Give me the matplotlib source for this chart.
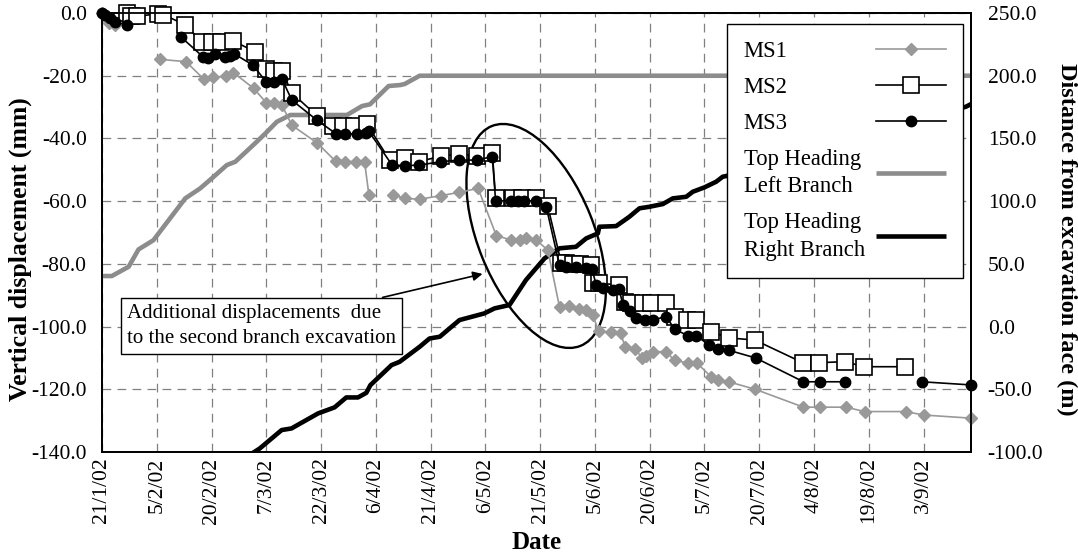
import numpy as np
import pandas as pd
import matplotlib
matplotlib.use("Agg")
from matplotlib import pyplot as plt
import matplotlib.dates as mdates
from matplotlib.patches import Ellipse
from matplotlib.transforms import ScaledTranslation

plt.rcParams['font.family'] = ['Liberation Serif', 'DejaVu Serif']

start = pd.Timestamp('2002-01-21')
nan = np.nan

# days after 21/1/02 and vertical displacement (mm); nan = break in the line
ms1_days = [0, 1, 2, 3.5, nan, 16, 23, 28, 30.5, 34, 36, 41.5, 45, 47, 49.3, 52, 59, 64, 66.5, 69.7, 71.9, 73.1, nan,
            79.7, 82.9, 87, 92.9, 97.9, 103, 108, 112.1, 114.4, 116.2, 118.9, 122.1,
            125.3, 128, 130.5, 132.6, 134.4, 136, 139.5, 142, 143.3, 146, 148, 149, 151, 154.5, 156.8, 160.5, 163,
            166.8, 168.6, 171.6, 178.9, 192.1, 196.7, 203.7, 208.9, 220.1, 225, 237.9]
ms1_disp = [0, -1.5, -3.3, -3.8, nan, -14.8, -15.5, -21.2, -20.5, -20.1, -19, -24, -28.6, -28.8, -29.4, -35.8, -41.5,
            -47.3, -47.4, -47.4, -47.4, -58, nan,
            -58, -59.1, -59.4, -58.2, -57.2, -55.9, -71, -72.4, -72.4, -71.8, -72.4, -75.6,
            -93.8, -93.3, -94.3, -94.8, -96.3, -101.5, -101.8, -102, -106.6, -107.2, -110, -109.4, -108, -108,
            -110.8, -111.6, -111.7, -116, -117, -117.6, -120, -125.7, -125.7, -125.7, -127.1, -127.1, -128.2, -129.2]

ms2_days = [6.8, 8, 9.5, 15.4, 16.8, 22.7, 27.5, 30, 32.7, 35.9, 41.9, 44.8, 47, 49.3, 52, 58.9, 63.4, 66.1, 68.9,
            72.5, 78.8, 82.9, 86.8, 92.9, 97.9, 102.6, 106.9, 107.8, 112.5, 115, 118.9, 122.1,
            125.8, 127.1, 128.9, 130.8, 134, 134.4, 136.2, 141.5, 143.1, 145, 148.1, 150.4, 154.5, 156.8, 160.2,
            162.7, 166.8, 171.6, 178.8, 191.9, 196.4, 203.5, 208.7, 220]
ms2_disp = [0, -0.9, -1.1, -0.2, -0.5, -3.7, -9.4, -9.4, -9.4, -8.9, -12.3, -18, -18.4, -18.5, -25.5, -32.8, -35.9,
            -35.9, -35.9, -35.4, -46.9, -46.3, -47.4, -45.6, -45, -45.5, -44.7, -59.1, -59.1, -59.1, -59.1, -61.7,
            -79.8, -79.8, -80, -80.2, -80.4, -86.2, -86.2, -86.7, -92.1, -92.6, -92.6, -92.6, -92.6, -97, -97.9,
            -97.9, -101.6, -103.6, -104.3, -111.5, -111.5, -111.2, -112.8, -112.8]

ms3_days = [0, 0.8, 2.2, 3.6, 6.8, nan, 21.7, 27.7, 29, 31, 33.8, 35, 36.2, 41.3, 45, 47.2, 49.3, 52, 58.9, 64.1,
            66.6, 69.8, 72.4, 73, 79.4, 82.9, 86.8, 92.9, 97.9, 102.6, 106.9, 107.8, 112.1, 113.9, 115.7, 118.9,
            121.7, 125.3, 127.1, 129.9, 132.6, 134.2, 135.3, 137.2, 139.9, 141.7, 142.6, 144.5, 146.3, 148.6,
            150.8, 154.5, 156.8, 160.4, 162.7, 166.3, 168.6, 171.8, 179, 192.1, 196.7, 203.5, nan, 224.5, 237.9]
ms3_disp = [0, -0.6, -1.6, -3.0, -3.7, nan, -7.7, -14, -14.2, -13, -14, -13.8, -13, -16.6, -22, -22.1, -21.1, -27.8,
            -34.2, -38.5, -38.5, -38.5, -38.2, -37.6, -48.4, -48.7, -48.5, -47.4, -46.9, -46.9, -45.8, -59.9, -59.9,
            -59.9, -59.9, -59.9, -62, -80.5, -80.9, -81, -81.3, -81.5, -86.7, -87.8, -88.3, -88.1, -93.1, -94.9,
            -97.4, -97.9, -97.9, -96.8, -100.8, -102.9, -102.9, -105.9, -107, -107.6, -110, -117.6, -117.6, -117.6,
            nan, -117.6, -118.6]

# top heading position, distance from excavation face (m)
left_days = [0, 2.7, 7.3, 10, 14.1, 22.8, 26.9, 30.6, 34.2, 36.5, 42.4, 45.2, 47.9, 51.6, 67.1, 71.2, 73.4, 78.5,
             81.7, 82.9, 87, 238]
left_dist = [40.3, 40.3, 47.7, 61.5, 68.9, 102.2, 110.2, 119.5, 128.8, 131.4, 147.4, 155.3, 163.3, 168.7, 168.7,
             175.8, 177.2, 191.8, 192.6, 193.4, 200, 200]

right_days = [38.5, 43.2, 49.2, 51.9, 59.2, 63.7, 66.9, 70.1, 72.4, 73.5, 79.3, 81.5, 87, 89.7, 92.5, 97.9, 104.7,
              107.5, 111.6, 116.1, 121.2, 125.3, 129.8, 132.6, 135.8, 136.2, 140.8, 144.4, 147.2, 149.9, 153.6,
              156.3, 160, 161.8, 165, 168.2, 170, 170.9, 236.6, 238]
right_dist = [-106, -97.2, -82.5, -81.2, -69.2, -64.4, -56.5, -56.5, -52.8, -46.7, -30.7, -28.1, -16.1, -9.5, -8.1,
              5.2, 10.5, 14.5, 17.2, 37.1, 54.4, 62.4, 63.6, 70.3, 74.3, 79.6, 80.1, 87.5, 94.3, 95.5, 97.7, 102.2,
              103.5, 107.5, 111, 115.5, 119.5, 120, 175.3, 177.4]

tick_dates = pd.date_range(start, periods=16, freq='15D')
tick_labels = [f"{d.day}/{d.month}/{d.strftime('%y')}" for d in tick_dates]

xmin = mdates.date2num(start)


def to_x(days):
    return xmin + np.asarray(days, dtype=float)


fig = plt.figure(figsize=(10.78, 5.54), dpi=100)
ax = fig.add_axes([0.0946, 0.1841, 0.8062, 0.7924])
ax2 = ax.twinx()
ax.set_zorder(ax2.get_zorder() + 1)
ax.patch.set_visible(False)

grey = '#8c8c8c'
l_left, = ax2.plot(to_x(left_days), left_dist, color=grey, lw=3.3, solid_capstyle='butt')
l_right, = ax2.plot(to_x(right_days), right_dist, color='black', lw=3.3, solid_capstyle='butt')

l1, = ax.plot(to_x(ms1_days), ms1_disp, color='#999999', lw=1.2, marker='D', ms=6.5,
              mfc='#999999', mec='#999999', clip_on=False)
l2, = ax.plot(to_x(ms2_days), ms2_disp, color='black', lw=1.2, marker='s', ms=11.5,
              mfc='white', mec='black', mew=1.2, clip_on=False)
l3, = ax.plot(to_x(ms3_days), ms3_disp, color='black', lw=1.2, marker='o', ms=7.5,
              mfc='black', mec='black', clip_on=False)

ax.set_xlim(xmin, xmin + 238)
ax.set_ylim(-140, 0)
ax2.set_ylim(-100, 250)
ax.set_yticks(np.arange(-140, 1, 20))
ax2.set_yticks(np.arange(-100, 251, 50))
ax.set_xticks(mdates.date2num(tick_dates))
ax.set_xticklabels(tick_labels, rotation=90)
ax.yaxis.set_major_formatter(matplotlib.ticker.FormatStrFormatter('%.1f'))
ax2.yaxis.set_major_formatter(matplotlib.ticker.FormatStrFormatter('%.1f'))

# grid on the lower axes so the series sit on top of it
ax2.xaxis.set_visible(True)
ax2.tick_params(axis='x', labelbottom=False, bottom=False, top=False)
grid_kw = dict(color='#808080', lw=0.9, linestyle=(0, (7, 5)))
ax2.grid(True, axis='both', **grid_kw)
ax.grid(False)

ax.tick_params(axis='y', labelsize=15.5, length=0, pad=11)
ax.tick_params(axis='x', labelsize=15.5, length=0, pad=4)
ax2.tick_params(axis='y', labelsize=15.5, length=0, pad=12)
for a in (ax, ax2):
    for s in a.spines.values():
        s.set_linewidth(1.3)

ax.set_ylabel('Vertical displacement (mm)', fontsize=18.5, fontweight='bold', labelpad=-1)
ax.yaxis.label.set_y(0.462)
ax2.set_ylabel('Distance from excavation face (m)', fontsize=17.5, fontweight='bold', rotation=270,
               labelpad=24)
ax2.yaxis.label.set_y(0.485)
ax.set_xlabel('Date', fontsize=18, fontweight='bold', labelpad=5)

# ellipse round the extra settlement, anchored in data coordinates
ell = Ellipse((0, 0), 2.37, 1.16, angle=-68, fill=False, ec='black', lw=1.7,
              transform=fig.dpi_scale_trans + ScaledTranslation(xmin + 118.9, -71.1, ax.transData))
ax.add_patch(ell)
ax.annotate('Additional displacements  due\nto the second branch excavation',
            xy=(xmin + 104.2, -83.2), xytext=(xmin + 6.8, -99.8),
            fontsize=15, ha='left', va='center', linespacing=1.4,
            bbox=dict(boxstyle='square,pad=0.3', fc='white', ec='black', lw=1),
            arrowprops=dict(arrowstyle='-|>', color='black', lw=1.2, mutation_scale=14,
                            shrinkA=0, shrinkB=0))

leg = ax.legend([l1, l2, l3, l_left, l_right],
                ['MS1', 'MS2', 'MS3', 'Top Heading\nLeft Branch', 'Top Heading\nRight Branch'],
                loc='upper right', bbox_to_anchor=(0.991, 0.975), markerfirst=False, fontsize=16.3,
                frameon=True, fancybox=False, framealpha=1, edgecolor='black', handlelength=3.1,
                labelspacing=0.66, borderpad=0.75, handletextpad=0.5, borderaxespad=0)
leg.get_frame().set_linewidth(1)
for t in leg.get_texts():
    t.set_linespacing(1.4)

# labels left-aligned with the keys in one column on the right
fig.canvas.draw()
rend = fig.canvas.get_renderer()
widths = [t.get_window_extent(rend).width for t in leg.get_texts()]
col = leg._legend_handle_box.get_children()[0]
for item, w in zip(col.get_children(), widths):
    item.sep += (max(widths) - w) / rend.points_to_pixels(1.0)

fig.savefig('out.png', dpi=100)
